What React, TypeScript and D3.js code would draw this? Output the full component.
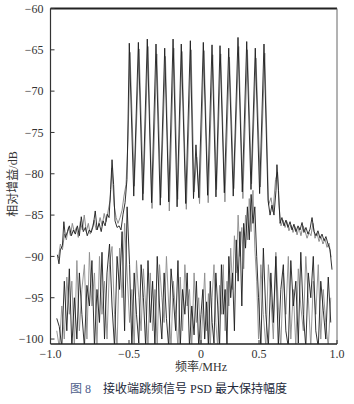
import React from 'react';
import * as d3 from 'd3';

// tick values
const xTicks = [-1, -0.5, 0, 0.5, 1];
const yTicks = [-100, -95, -90, -85, -80, -75, -70, -65, -60];

// max-hold trace, black (MHz / dB)
const blackFreq = [
  -0.956, -0.946, -0.937, -0.924, -0.915, -0.905, -0.892, -0.88, -0.867, -0.854,
  -0.842, -0.829, -0.816, -0.804, -0.791, -0.778, -0.766, -0.753, -0.741, -0.728,
  -0.715, -0.703, -0.69, -0.677, -0.665, -0.652, -0.639, -0.627, -0.617, -0.608,
  -0.598, -0.589, -0.576, -0.563, -0.551, -0.538, -0.525, -0.513, -0.506,
  -0.498, -0.467, -0.435, -0.404, -0.373, -0.343, -0.3125, -0.283, -0.252, -0.224,
  -0.194, -0.166, -0.137, -0.106, -0.074, -0.052, -0.035, -0.015, 0.02, 0.057,
  0.095, 0.129, 0.164, 0.201, 0.239, 0.278, 0.319, 0.356, 0.394, 0.431,
  0.468, 0.504, 0.532,
  0.558, 0.571, 0.583, 0.596, 0.609, 0.615, 0.625, 0.635, 0.647, 0.66,
  0.673, 0.686, 0.699, 0.712, 0.724, 0.737, 0.75, 0.763, 0.776, 0.788,
  0.801, 0.814, 0.827, 0.84, 0.853, 0.865, 0.878, 0.891, 0.904, 0.917,
  0.929, 0.942, 0.955, 0.968,
];
const blackDb = [
  -89.8, -90.9, -89.2, -88.7, -85.8, -87.7, -87.0, -86.3, -87.5, -86.8,
  -87.3, -86.3, -87.5, -85.2, -87.0, -86.5, -87.5, -86.8, -87.1, -86.3,
  -84.5, -86.8, -86.0, -87.0, -85.7, -86.3, -84.9, -85.3, -81.9, -78.3,
  -81.3, -85.7, -86.5, -86.3, -86.8, -84.9, -83.5, -80.7, -73.5,
  -64.2, -82.7, -64.1, -83.2, -63.7, -83.5, -64.3, -83.8, -64.8, -83.4,
  -63.7, -84.0, -64.3, -83.6, -63.9, -83.0, -76.5, -82.9, -64.1, -82.6,
  -64.4, -82.8, -64.5, -82.3, -64.8, -82.7, -63.5, -82.2, -64.0, -81.9,
  -64.8, -82.4, -64.3,
  -83.2, -85.0, -83.8, -85.0, -82.0, -78.9, -82.0, -86.0, -85.3, -86.3,
  -85.6, -86.5, -85.8, -86.8, -86.1, -87.0, -86.3, -86.8, -85.9, -87.1,
  -86.5, -87.3, -86.7, -85.3, -87.0, -87.5, -86.9, -87.8, -87.3, -88.1,
  -87.6, -88.5, -89.2, -91.6,
];

// max-hold trace, gray
const grayFreq = [
  -0.949, -0.937, -0.924, -0.911, -0.899, -0.886, -0.873, -0.861, -0.848, -0.835,
  -0.823, -0.81, -0.797, -0.785, -0.772, -0.759, -0.747, -0.734, -0.722, -0.709,
  -0.696, -0.684, -0.671, -0.658, -0.646, -0.633, -0.62, -0.608, -0.595, -0.582,
  -0.57, -0.557, -0.544, -0.532, -0.519, -0.506,
  -0.493, -0.463, -0.43, -0.4, -0.368, -0.34, -0.307, -0.279, -0.247, -0.22,
  -0.189, -0.162, -0.132, -0.102, -0.069, -0.048, -0.03, -0.01, 0.026, 0.062,
  0.101, 0.134, 0.17, 0.206, 0.245, 0.283, 0.325, 0.361, 0.4, 0.436,
  0.474, 0.509, 0.537,
  0.561, 0.577, 0.59, 0.606, 0.619, 0.628, 0.641, 0.654, 0.667, 0.679,
  0.692, 0.705, 0.718, 0.731, 0.744, 0.756, 0.769, 0.782, 0.795, 0.808,
  0.821, 0.833, 0.846, 0.859, 0.872, 0.885, 0.897, 0.91, 0.923, 0.936,
  0.949, 0.962,
];
const grayDb = [
  -90.2, -88.5, -89.2, -87.3, -88.0, -86.5, -87.5, -86.0, -87.1, -86.5,
  -87.7, -85.8, -86.8, -85.0, -87.0, -86.0, -87.3, -86.5, -85.6, -86.8,
  -86.3, -85.3, -86.3, -84.8, -85.8, -84.5, -83.2, -79.3, -83.8, -85.3,
  -86.0, -85.3, -84.4, -82.7, -81.3, -75.9,
  -65.3, -81.5, -64.9, -82.4, -64.6, -84.2, -65.5, -82.9, -65.8, -84.5,
  -64.8, -83.1, -65.2, -84.3, -65.0, -82.2, -78.0, -83.6, -65.1, -83.5,
  -65.6, -81.9, -65.5, -83.4, -65.9, -81.8, -64.6, -83.0, -65.0, -81.2,
  -66.0, -81.6, -65.4,
  -83.8, -82.9, -84.6, -80.7, -79.8, -83.8, -86.3, -85.6, -86.5, -85.8,
  -86.9, -86.2, -87.1, -86.4, -87.4, -86.5, -87.5, -86.3, -86.9, -87.8,
  -87.1, -87.5, -86.0, -87.8, -87.2, -88.2, -87.6, -88.5, -87.9, -88.9,
  -88.4, -90.1,
];

// lower noise traces on a common frequency grid
const noiseFreq = d3.range(-0.96, 0.9601, 0.016);
const noiseBlackDb = [
  -97.5, -98.5, -101, -93, -99, -91.5, -101, -95, -100, -92,
  -97, -101, -93.5, -96, -90.5, -101, -94, -98, -89.5, -100,
  -92, -88.5, -96, -101, -90, -94, -87, -99, -84, -91,
  -101, -92, -97, -100.5, -91, -95, -101, -90.5, -98, -93,
  -101, -90, -96, -100, -92, -97.5, -101, -91.5, -95, -99,
  -90.5, -101, -94, -97, -92, -101, -96, -99.5, -93, -101,
  -97, -94, -100, -95.5, -101, -93, -98, -100.5, -92, -96,
  -101, -91, -97, -94, -101, -90, -95, -92, -99, -88,
  -93, -87, -96, -86, -89, -84, -88, -82.5, -86, -84,
  -90, -95, -101, -89, -97, -101, -92, -98, -90, -101,
  -94, -91, -99, -101, -90.5, -96, -93, -100.5, -89.5, -97,
  -101, -92, -95, -90, -99, -101, -93, -96.5, -100, -92.5,
  -98,
];
const noiseGrayDb = [
  -99, -101, -96, -100, -92.5, -97, -93, -101, -90.5, -99,
  -94, -91, -100, -89.5, -96, -92, -101, -90, -97, -93,
  -100, -91, -88.8, -97, -101, -89, -95, -86, -92, -98,
  -94, -101, -90.5, -95, -99, -91.5, -96, -101, -92, -99,
  -94, -101, -91, -95, -98, -90, -96, -101, -93, -97,
  -101, -92.5, -99, -91, -96, -94, -101, -92, -98, -95,
  -101, -96.5, -92, -99, -94.5, -101, -95, -91, -98, -101,
  -93.5, -97, -91, -99, -93, -96, -89, -94, -87.5, -92,
  -85, -90, -86.5, -91.5, -85, -88, -83, -87, -82, -89,
  -93, -100, -91, -97, -101, -91, -95, -100, -89.5, -96,
  -101, -92, -97, -90, -100, -94, -101, -91.5, -96, -99,
  -90, -95, -101, -93, -97, -91, -100, -94, -98, -101,
  -95,
];

const FONT = "'Liberation Serif', 'Noto Sans CJK SC', serif";

export default function App() {
  const width = 354;
  const height = 404;
  const left = 50.5, right = 337, top = 8.5, bottom = 344;

  // label positions on the printed axis are not evenly spaced
  const x = d3.scaleLinear().domain(xTicks).range([left, 129, 201, 259, right]);
  const y = d3.scaleLinear().domain([-100.6, -60]).range([bottom, top]);

  const line = d3.line<[number, number]>()
    .x(d => x(d[0]))
    .y(d => y(d[1]));

  const fmtX = (v: number) => (v === 0 ? '0' : d3.format('.1f')(v).replace('-', '\u2212'));
  const fmtY = (v: number) => String(v).replace('-', '\u2212');

  const traces = [
    { f: noiseFreq, v: noiseGrayDb, color: '#8c8c8c', w: 0.9 },
    { f: noiseFreq, v: noiseBlackDb, color: '#1c1c1c', w: 0.9 },
    { f: grayFreq, v: grayDb, color: '#8c8c8c', w: 1 },
    { f: blackFreq, v: blackDb, color: '#1c1c1c', w: 0.9 },
  ];

  return (
    <svg width={width} height={height} style={{ position: 'absolute', left: 0, top: 0, background: '#fff' }} fontFamily={FONT}>
      <defs>
        <clipPath id="plot">
          <rect x={left} y={top} width={right - left} height={bottom - top} />
        </clipPath>
      </defs>

      <g clipPath="url(#plot)">
        {traces.map((t, i) => (
          <path key={i} d={line(d3.zip(t.f, t.v) as [number, number][]) || ''} fill="none" stroke={t.color} strokeWidth={t.w} strokeLinejoin="round" />
        ))}
      </g>

      {/* frame */}
      <line x1={left} x2={right} y1={top} y2={top} stroke="#222" strokeWidth={2} />
      <line x1={right} x2={right} y1={top} y2={bottom} stroke="#666" strokeWidth={1} />
      <line x1={left} x2={left} y1={top} y2={bottom} stroke="#333" strokeWidth={1.2} />
      <line x1={left} x2={right} y1={bottom} y2={bottom} stroke="#222" strokeWidth={1.4} />

      {/* y axis */}
      {yTicks.map(t => (
        <g key={t}>
          <line x1={left} x2={left + 4} y1={y(t)} y2={y(t)} stroke="#333" />
          <text x={left - 7} y={y(t)} dy="0.35em" textAnchor="end" fontSize={12} fill="#333">{fmtY(t)}</text>
        </g>
      ))}

      {/* x axis */}
      {xTicks.map(t => (
        <g key={t}>
          <line x1={x(t)} x2={x(t)} y1={bottom} y2={bottom - 4} stroke="#333" />
          <text x={x(t)} y={358} textAnchor="middle" fontSize={12} fill="#333">{fmtX(t)}</text>
        </g>
      ))}

      <text x={201} y={371} textAnchor="middle" fontSize={12} fill="#333">频率/MHz</text>
      <text transform="translate(17,184) rotate(-90)" textAnchor="middle" fontSize={12} fill="#333">相对增益/dB</text>

      <text x={70} y={393} fontSize={12} fill="#4d5e8c">图 8</text>
      <text x={103} y={393} fontSize={12} fill="#22283a">接收端跳频信号 PSD 最大保持幅度</text>
    </svg>
  );
}
